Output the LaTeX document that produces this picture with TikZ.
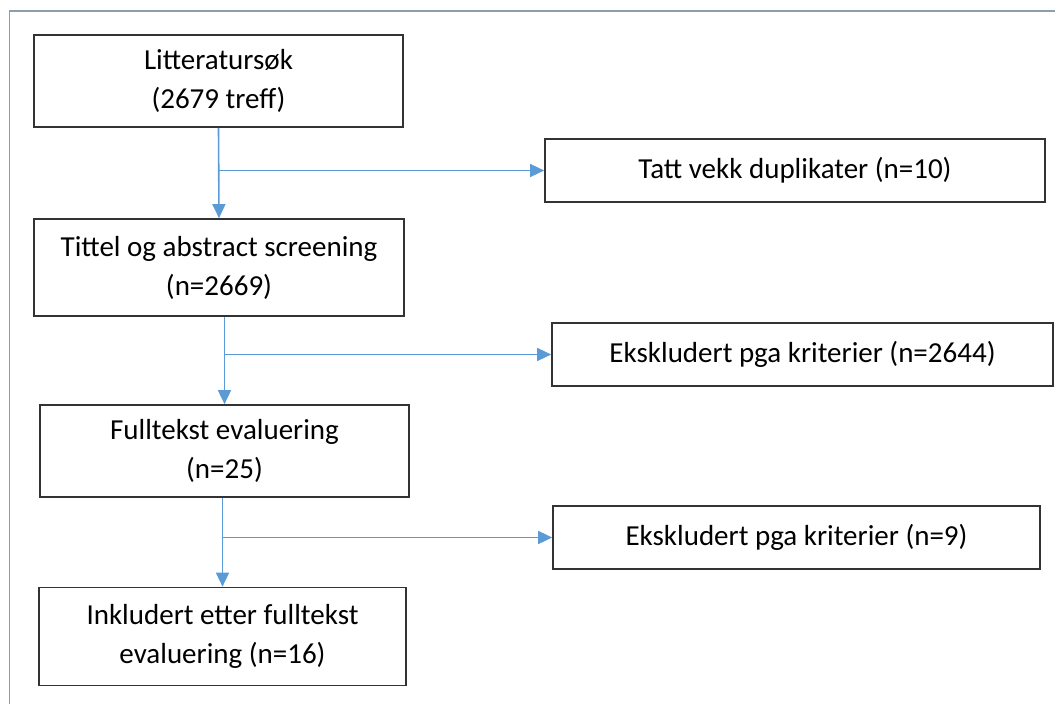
\documentclass[tikz,border=0pt]{standalone}
\usepackage{fontspec}
\setmainfont{Carlito}
\usetikzlibrary{arrows.meta}
\definecolor{arrblue}{HTML}{5B9BD5}
\definecolor{framec}{HTML}{8C9DAB}
\definecolor{boxc}{HTML}{333333}
\begin{document}
\begin{tikzpicture}[x=1pt,y=-1pt,
  box/.style={draw=boxc, line width=1.7pt, align=center, font=\fontsize{29}{39}\selectfont, inner sep=0pt},
  arr/.style={draw=arrblue, line width=1.6pt, -{Triangle[length=14pt,width=13pt]}}]
\path[use as bounding box] (0,0) rectangle (1055,704);
\draw[framec, line width=1.8pt] (9.5,704) -- (9.5,11) -- (1055,11);
\node[box, minimum width=369pt, minimum height=92pt] (A) at (218.5,81) {Litteratursøk\\(2679 treff)};
\node[box, minimum width=500pt, minimum height=63pt] (B) at (795,170.5) {Tatt vekk duplikater (n=10)};
\node[box, minimum width=370pt, minimum height=97pt] (C) at (219,267.5) {Tittel og abstract screening\\(n=2669)};
\node[box, minimum width=501pt, minimum height=63pt] (D) at (802.5,354.5) {Ekskludert pga kriterier (n=2644)};
\node[box, minimum width=369pt, minimum height=92pt] (E) at (224.5,451) {Fulltekst evaluering\\(n=25)};
\node[box, minimum width=487pt, minimum height=63pt] (F) at (796.5,537.5) {Ekskludert pga kriterier (n=9)};
\node[box, minimum width=367pt, minimum height=98pt] (G) at (222.5,636.5) {Inkludert etter fulltekst\\evaluering (n=16)};
% connectors
\draw[arr] (A.south) -- (C.north);
\coordinate (j1) at (A.south |- B.west);
\draw[arr] (j1) -- (B.west);
\coordinate (c2) at (E.north |- C.south);
\draw[arr] (c2) -- (E.north);
\coordinate (j2) at (E.north |- D.west);
\draw[arr] (j2) -- (D.west);
\coordinate (c3) at (G.north |- E.south);
\draw[arr] (c3) -- (G.north);
\coordinate (j3) at (G.north |- F.west);
\draw[arr] (j3) -- (F.west);
\end{tikzpicture}
\end{document}
